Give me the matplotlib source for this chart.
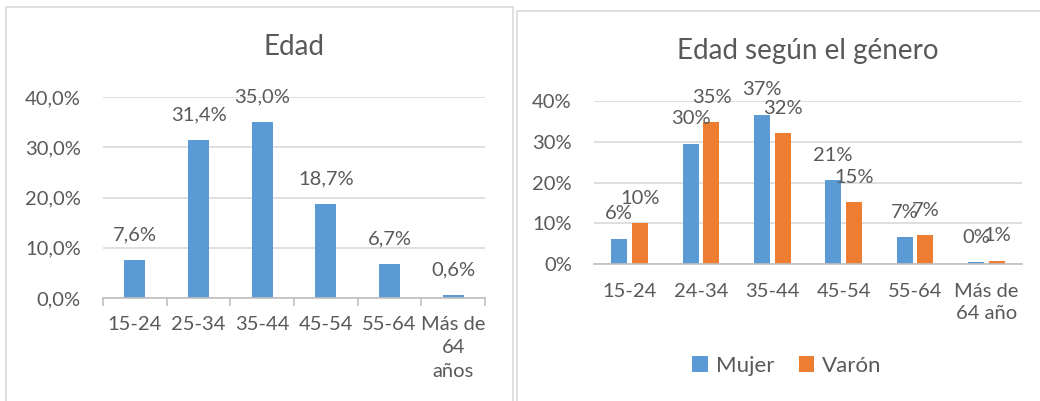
#!/usr/bin/env python3
"""Edad / Edad según el género - two Excel-style bar charts side by side."""

import matplotlib

matplotlib.use("Agg")
import matplotlib.pyplot as plt
from matplotlib.patches import Rectangle
import numpy as np

# data
edad_cats = ["15-24", "25-34", "35-44", "45-54", "55-64", "Más de\n64\naños"]
edad_vals = [7.6, 31.4, 35.0, 18.7, 6.7, 0.6]
edad_ticks = [0, 10, 20, 30, 40]

genero_cats = ["15-24", "24-34", "35-44", "45-54", "55-64", "Más de\n64 año"]
mujer_vals = [6.2, 29.5, 36.6, 20.6, 6.6, 0.4]
varon_vals = [10.0, 34.8, 32.1, 15.2, 7.1, 0.8]
genero_ticks = [0, 10, 20, 30, 40]

BLUE = "#5B9BD5"
ORANGE = "#ED7D31"
TEXT = "#595959"
GRID = "#D9D9D9"
AXIS = "#BFBFBF"
FS = 14.5

plt.rcParams.update({
    "font.family": ["Lato", "DejaVu Sans"],
    "font.size": FS,
    "text.color": TEXT,
    "axes.labelcolor": TEXT,
    "xtick.color": TEXT,
    "ytick.color": TEXT,
})

fig = plt.figure(figsize=(10.4, 4.01), dpi=100)
W, H = 1040, 401


def fig_rect(x0, y0, x1, y1):
    """pixel box (top-left origin) -> axes rect in figure fraction"""
    return [x0 / W, 1 - y1 / H, (x1 - x0) / W, (y1 - y0) / H]


# chart borders
for (x0, y0, x1, y1) in [(6, 7, 513, 410), (517, 11, 1045, 410)]:
    fig.patches.append(Rectangle((x0 / W, 1 - y1 / H), (x1 - x0) / W, (y1 - y0) / H,
                                 transform=fig.transFigure, fill=False,
                                 edgecolor=GRID, lw=1.2))


def style_axes(ax, ticks, labels, xpad):
    ax.set_ylim(0, 40)
    ax.set_yticks(ticks)
    ax.set_yticklabels(labels)
    for s in ["top", "right", "left"]:
        ax.spines[s].set_visible(False)
    ax.spines["bottom"].set_color(AXIS)
    ax.spines["bottom"].set_linewidth(1.2)
    ax.yaxis.grid(True, color=GRID, lw=1.2)
    ax.set_axisbelow(True)
    ax.tick_params(axis="y", length=0, pad=16, labelsize=FS)
    ax.tick_params(axis="x", which="major", length=0, pad=xpad, labelsize=FS)


# left chart
ax1 = fig.add_axes(fig_rect(103, 97, 485, 298))
x = np.arange(len(edad_cats))
ax1.bar(x, edad_vals, width=0.335, color=BLUE)
ax1.set_xlim(-0.5, len(edad_cats) - 0.5)
style_axes(ax1, edad_ticks, [f"{t:.1f}%".replace(".", ",") for t in edad_ticks], 13)
ax1.set_xticks(x)
ax1.set_xticklabels(edad_cats, linespacing=1.45)
ax1.set_xticks(np.arange(-0.5, len(edad_cats)), minor=True)
ax1.tick_params(axis="x", which="minor", length=6, color=AXIS, width=1.2)
for xi, v in zip(x, edad_vals):
    ax1.annotate(f"{v:.1f}%".replace(".", ","), (xi, v), xytext=(0, 18),
                 textcoords="offset points", ha="center", va="center", fontsize=FS)
ax1.set_title("Edad", fontsize=20, pad=30)

# right chart
ax2 = fig.add_axes(fig_rect(594, 101, 1022, 264))
x = np.arange(len(genero_cats))
w = 0.224
ax2.bar(x - 0.147, mujer_vals, width=w, color=BLUE, label="Mujer")
ax2.bar(x + 0.147, varon_vals, width=w, color=ORANGE, label="Varón")
ax2.set_xlim(-0.5, len(genero_cats) - 0.5)
style_axes(ax2, genero_ticks, [f"{t}%" for t in genero_ticks], 14)
ax2.set_xticks(x)
ax2.set_xticklabels(genero_cats, linespacing=1.35)
for xi, v in zip(x, mujer_vals):
    ax2.annotate(f"{v:.0f}%", (xi - 0.147, v), xytext=(0, 18),
                 textcoords="offset points", ha="center", va="center", fontsize=FS)
for xi, v in zip(x, varon_vals):
    ax2.annotate(f"{v:.0f}%", (xi + 0.147, v), xytext=(0, 18),
                 textcoords="offset points", ha="center", va="center", fontsize=FS)
ax2.set_title("Edad según el género", fontsize=20, pad=30)

handles, labels = ax2.get_legend_handles_labels()
fig.legend(handles=handles, labels=labels,
           loc="center", bbox_to_anchor=(787 / W, 1 - 366 / H), ncol=2,
           frameon=False, fontsize=16, handlelength=0.7, handleheight=0.7,
           handletextpad=0.35, columnspacing=1.1)

fig.savefig("out.png", dpi=100)
